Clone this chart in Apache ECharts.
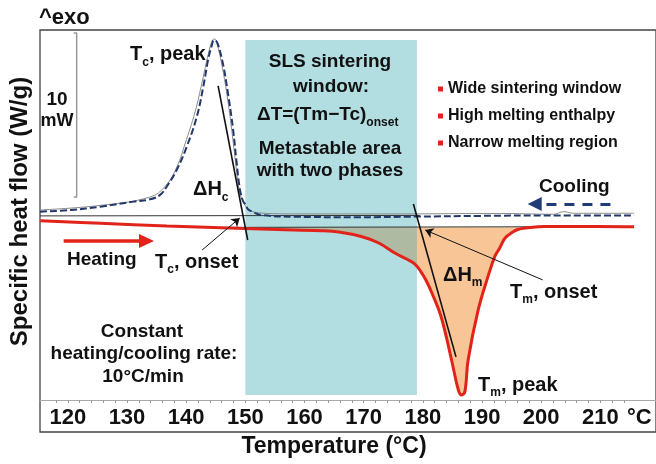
<!DOCTYPE html>
<html>
<head>
<meta charset="utf-8">
<script src="https://cdn.jsdelivr.net/npm/echarts@6.0.0/dist/echarts.min.js"></script>
<style>html,body{margin:0;padding:0;background:#fff;}#chart{width:656px;height:464px;}</style>
</head>
<body>
<div id="chart"></div>
<script>
// ---- axis ticks / labels ----
const xLabelValues = [120, 130, 140, 150, 160, 170, 180, 190, 200, 210];
const xTickValues = [118, 120, 122, 124, 126, 128, 130, 132, 134, 136, 138, 140, 142, 144, 146, 148, 150, 152, 154, 156, 158, 160, 162, 164, 166, 168, 170, 172, 174, 176, 178, 180, 182, 184, 186, 188, 190, 192, 194, 196, 198, 200, 202, 204, 206, 208, 210, 212, 214];

// ---- cooling curve (dashed) ----
const coolingTemp = [115.3, 120.5, 125.5, 131.1, 133.9, 135.6, 136.7, 138.4, 140.1, 141.8, 142.9, 143.7, 144.35, 144.7, 145.0, 145.4, 146.25, 147.1, 147.9, 148.5, 149.05, 149.6, 150.1, 150.4, 151.2, 152.6, 158.3, 168.9, 179.3, 189.3, 202.8, 215.7];
const coolingFlow = [-0.07, 0.03, 0.23, 0.54, 0.68, 0.95, 1.45, 2.47, 3.89, 5.72, 7.55, 9.17, 10.09, 10.39, 10.36, 10.10, 8.89, 7.06, 5.03, 3.02, 1.37, 0.58, 0.34, 0.09, -0.07, -0.27, -0.38, -0.41, -0.37, -0.33, -0.30, -0.30];

// ---- cooling reference curve (thin grey) ----
const coolRefTemp = [115.3, 125.5, 133.9, 136.5, 138.5, 139.8, 141.5, 142.7, 143.7, 144.45, 144.85, 145.2, 146.0, 146.9, 147.7, 148.4, 149.05, 149.9, 150.7, 152.4, 159.1, 175.9, 192.7, 202.1, 203.8, 205.5, 215.7];
const coolRefFlow = [0.03, 0.31, 0.82, 1.49, 2.71, 4.05, 6.0, 7.83, 9.48, 10.39, 10.45, 10.2, 8.93, 7.04, 4.91, 2.77, 1.13, 0.34, 0.03, -0.15, -0.21, -0.21, -0.18, -0.23, -0.07, -0.17, -0.17];

// ---- heating curve (red) ----
const heatingTemp = [115.35, 125.55, 136.75, 149.9, 155.4, 162.65, 165.8, 169.75, 172.55, 175.35, 177.26, 178.6, 179.6, 180.6, 181.6, 183.1, 184.85, 186.0, 186.55, 187.1, 187.65, 189.35, 191.0, 192.2, 193.0, 193.9, 195.2, 196.05, 197.4, 200.6, 209.5, 215.7];
const heatingFlow = [-0.62, -0.78, -0.94, -1.10, -1.16, -1.23, -1.31, -1.60, -1.98, -2.61, -2.96, -3.26, -3.69, -4.30, -5.09, -6.49, -9.11, -10.94, -11.24, -11.04, -9.11, -6.06, -4.03, -2.77, -2.28, -1.68, -1.31, -1.16, -1.07, -0.97, -0.97, -0.99];

// ---- construction lines & annotations (data coordinates) ----
const tcBaseline = [[115.3, -0.33], [179.5, -0.30]];
const meltBaseline = [[147.0, -1.03], [203.5, -0.99]];
const meltFillRange = [150, 198];
const meltFillOrigin = -1.02;
const tcTangent = [[145.4, 7.59], [150.4, -1.8]];
const tmTangent = [[178.4, 0.40], [185.6, -8.92]];
const tcOnsetArrow = [[142.7, -2.41], [149.05, -0.46]];
const tmOnsetArrow = [[200.25, -4.23], [180.4, -1.19]];
const heatingArrow = [[119.3, -1.86], [133.3, -1.86]];
const coolingArrow = [[211.7, 0.40], [198.9, 0.40]];
const scaleBar = [[121.0, 10.82], [121.5, 10.82], [121.5, 0.82], [121.0, 0.82]];
const sinterWindow = [150, 179.0];
const sinterWindowFlow = [10.39, -11.24];

const pair = (a, b) => a.map((t, i) => [t, b[i]]);
const F = '"Liberation Sans", Arial, Helvetica, sans-serif';
const INK = '#111';

function plain(x, y, text, size, align) {
  return { type: 'text', x: x, y: y, silent: true, z: 100,
    style: { text: text, fill: INK, fontSize: size, fontWeight: 'bold', fontFamily: F,
      align: align || 'left', verticalAlign: 'middle' } };
}
function withSub(x, y, text, size, subSize, align) {
  // subscript centre sits slightly below the main baseline
  const subCentre = 0.85 * size + 1;
  const lh = subCentre + subSize / 2;
  return { type: 'text', x: x, y: y - size / 2, silent: true, z: 100,
    style: { text: text, fill: INK, fontSize: size, fontWeight: 'bold', fontFamily: F,
      align: align || 'left', verticalAlign: 'top',
      rich: {
        n: { fill: INK, fontSize: size, fontWeight: 'bold', fontFamily: F, lineHeight: size, verticalAlign: 'top' },
        s: { fill: INK, fontSize: subSize, fontWeight: 'bold', fontFamily: F, lineHeight: lh, verticalAlign: 'bottom' }
      } } };
}
function bullet(x, y) {
  return { type: 'rect', silent: true, z: 100, shape: { x: x, y: y - 2.5, width: 5, height: 5 }, style: { fill: '#e2231a' } };
}

const chart = echarts.init(document.getElementById('chart'));
const lineBase = { type: 'line', symbol: 'none', silent: true, animation: false, emphasis: { disabled: true } };

const option = {
  animation: false,
  grid: { left: 39, right: -3, top: 30, bottom: 32, show: true, borderColor: '#444', borderWidth: 1.3 },
  xAxis: {
    type: 'value', min: 115.3, max: 219.4, offset: -32,
    axisLine: { show: true, onZero: false, lineStyle: { color: '#aaa', width: 1 } },
    axisTick: { show: true, customValues: xTickValues, length: 3, lineStyle: { color: '#999' } },
    axisLabel: { customValues: xLabelValues, fontSize: 22, fontWeight: 'bold', color: INK, fontFamily: F, margin: 7 },
    splitLine: { show: false },
    name: 'Temperature (°C)', nameLocation: 'middle', nameGap: 35,
    nameTextStyle: { fontSize: 23, fontWeight: 'bold', color: INK, fontFamily: F, padding: [0, 28, 0, 0] }
  },
  yAxis: {
    type: 'value', min: -13.5, max: 11,
    axisLine: { show: false }, axisTick: { show: false }, axisLabel: { show: false }, splitLine: { show: false },
    name: 'Specific heat flow (W/g)', nameLocation: 'middle', nameGap: 8,
    nameTextStyle: { fontSize: 24, fontWeight: 'bold', color: INK, fontFamily: F, padding: [0, 0, 0, 39] }
  },
  series: [
    Object.assign({}, lineBase, { name: 'melt fill', z: 1,
      data: pair(heatingTemp, heatingFlow).filter(p => p[0] >= meltFillRange[0] && p[0] <= meltFillRange[1]),
      smooth: 0.4, lineStyle: { width: 0 }, areaStyle: { origin: meltFillOrigin, color: '#f8c696', opacity: 1 } }),
    Object.assign({}, lineBase, { name: 'window', z: 2,
      data: [[sinterWindow[0], sinterWindowFlow[0]], [sinterWindow[1], sinterWindowFlow[0]]],
      lineStyle: { width: 0 }, areaStyle: { origin: sinterWindowFlow[1], color: 'rgb(62,170,180)', opacity: 0.4 } }),
    Object.assign({}, lineBase, { name: 'Tc baseline', z: 3, data: tcBaseline, lineStyle: { color: '#333', width: 1 } }),
    Object.assign({}, lineBase, { name: 'melt baseline', z: 3, data: meltBaseline, lineStyle: { color: '#333', width: 1 } }),
    Object.assign({}, lineBase, { name: 'Heating', z: 4, data: pair(heatingTemp, heatingFlow), smooth: 0.4,
      lineStyle: { color: '#e2231a', width: 3 } }),
    Object.assign({}, lineBase, { name: 'Cooling ref', z: 4, data: pair(coolRefTemp, coolRefFlow), smooth: 0.4,
      lineStyle: { color: '#8a8a8a', width: 1 } }),
    Object.assign({}, lineBase, { name: 'Cooling', z: 5, data: pair(coolingTemp, coolingFlow), smooth: 0.4,
      lineStyle: { color: '#22386b', width: 2, type: [7, 3] } }),
    Object.assign({}, lineBase, { name: 'Tc tangent', z: 6, data: tcTangent, lineStyle: { color: '#111', width: 1.6 } }),
    Object.assign({}, lineBase, { name: 'Tm tangent', z: 6, data: tmTangent, lineStyle: { color: '#111', width: 1.6 } }),
    Object.assign({}, lineBase, { name: 'scale bar', z: 6, data: scaleBar, lineStyle: { color: '#999', width: 1.5 } }),
    Object.assign({}, lineBase, { name: 'onset arrows', z: 6, data: [],
      markLine: { silent: true, animation: false, symbol: ['none', 'arrow'], symbolSize: 8, label: { show: false },
        emphasis: { disabled: true }, lineStyle: { color: '#111', width: 1, type: 'solid' },
        data: [
          [{ coord: tcOnsetArrow[0] }, { coord: tcOnsetArrow[1] }],
          [{ coord: tmOnsetArrow[0] }, { coord: tmOnsetArrow[1] }]
        ] } }),
    Object.assign({}, lineBase, { name: 'heating arrow', z: 6, data: [],
      markLine: { silent: true, animation: false, symbol: ['none', 'triangle'], symbolSize: [14, 15], label: { show: false },
        emphasis: { disabled: true }, lineStyle: { color: '#e2231a', width: 3.5, type: 'solid' },
        data: [[{ coord: heatingArrow[0] }, { coord: heatingArrow[1] }]] } }),
    Object.assign({}, lineBase, { name: 'cooling arrow', z: 6, data: [],
      markLine: { silent: true, animation: false, symbol: ['none', 'triangle'], symbolSize: [14, 14], label: { show: false },
        emphasis: { disabled: true }, lineStyle: { color: '#1f3c74', width: 3, type: [10, 8] },
        data: [[{ coord: coolingArrow[0] }, { coord: coolingArrow[1] }]] } })
  ],
  graphic: [
    plain(39, 18, '^exo', 22, 'left'),
    plain(57, 100, '10', 19, 'center'),
    plain(57, 121, 'mW', 18, 'center'),
    withSub(130, 54.5, '{n|T}{s|c}{n|, peak}', 20, 12),
    withSub(193, 189.5, '{n|ΔH}{s|c}', 20, 12),
    plain(330, 62, 'SLS sintering', 19, 'center'),
    plain(331, 87, 'window:', 19, 'center'),
    withSub(257, 115, '{n|ΔT=(Tm−Tc)}{s|onset}', 19, 12),
    plain(330, 149, 'Metastable area', 19, 'center'),
    plain(330, 171, 'with two phases', 19, 'center'),
    bullet(438, 89), plain(448, 89, 'Wide sintering window', 16),
    bullet(438, 116), plain(448, 116, 'High melting enthalpy', 16),
    bullet(438, 143), plain(448, 143, 'Narrow melting region', 16),
    plain(539, 187, 'Cooling', 19),
    plain(67, 260, 'Heating', 19),
    withSub(155, 262, '{n|T}{s|c}{n|, onset}', 20, 12),
    plain(142, 332, 'Constant', 19, 'center'),
    plain(144, 354, 'heating/cooling rate:', 19, 'center'),
    plain(143, 377, '10°C/min', 19, 'center'),
    withSub(443, 275, '{n|ΔH}{s|m}', 20, 12),
    withSub(510, 292, '{n|T}{s|m}{n|, onset}', 20, 12),
    withSub(478, 385, '{n|T}{s|m}{n|, peak}', 20, 12),
    plain(627, 418, '°C', 22)
  ]
};
chart.setOption(option);
</script>
</body>
</html>
